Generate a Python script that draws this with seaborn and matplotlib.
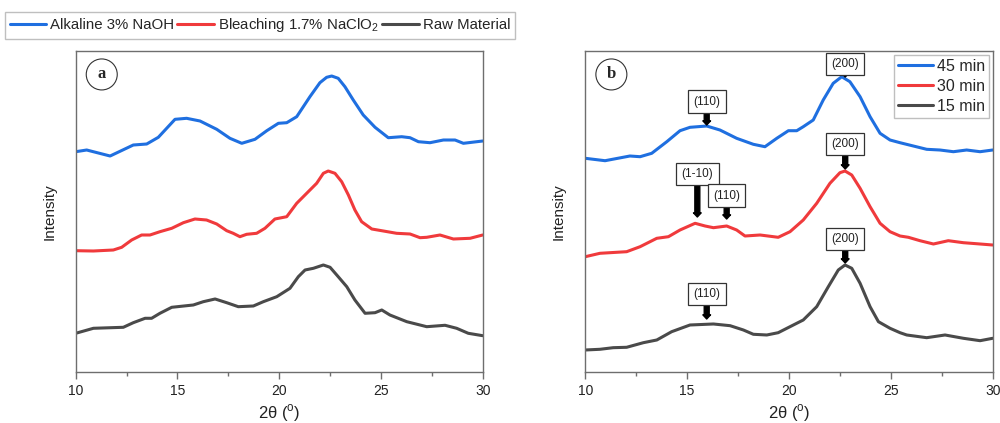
import numpy as np
import pandas as pd
import matplotlib
matplotlib.use("Agg")
import matplotlib.pyplot as plt
from matplotlib.ticker import MultipleLocator
from matplotlib.lines import Line2D
import seaborn as sns

# ---------------- data (2theta in degrees, intensity in arbitrary units) ----------------
a_alk_x = [10.0, 10.54, 11.69, 12.83, 13.49, 14.06, 14.88, 15.45, 16.11, 16.93, 17.58, 18.16,
           18.81, 19.39, 19.96, 20.37, 20.86, 21.51, 22.0, 22.33, 22.58, 22.90, 23.23, 23.64,
           24.13, 24.71, 25.36, 26.02, 26.43, 26.84, 27.41, 28.07, 28.64, 29.05, 30.0]
a_alk_y = [220.3, 222.0, 216.0, 227.0, 228.0, 234.7, 252.7, 253.7, 251.0, 242.7, 233.7, 228.7,
           232.7, 241.3, 248.7, 249.3, 255.3, 275.3, 289.3, 294.7, 296.0, 293.7, 285.3, 272.0,
           257.0, 244.7, 234.3, 235.3, 234.3, 230.3, 229.3, 232.0, 232.0, 228.7, 231.0]

a_bl_x = [10.0, 10.87, 11.85, 12.26, 12.75, 13.24, 13.65, 14.14, 14.72, 15.29, 15.86, 16.43,
          16.93, 17.42, 17.74, 18.07, 18.40, 18.89, 19.30, 19.79, 20.37, 20.86, 21.35, 21.84,
          22.17, 22.41, 22.74, 23.07, 23.40, 23.72, 24.05, 24.55, 25.12, 25.77, 26.43, 26.92,
          27.25, 27.90, 28.56, 29.38, 30.0]
a_bl_y = [121.3, 121.0, 122.0, 124.7, 132.0, 137.0, 137.0, 140.3, 143.7, 149.3, 153.0, 152.0,
          148.0, 141.3, 138.7, 135.3, 137.7, 138.7, 143.7, 153.0, 155.3, 168.7, 178.7, 188.7,
          198.7, 201.0, 198.7, 190.3, 177.0, 162.0, 150.3, 143.0, 141.0, 138.7, 138.0, 134.3,
          134.7, 137.0, 133.0, 133.7, 137.0]

a_raw_x = [10.0, 10.87, 12.34, 12.83, 13.41, 13.73, 14.14, 14.72, 15.78, 16.27, 16.85, 17.42,
           17.99, 18.73, 19.22, 19.88, 20.53, 20.94, 21.27, 21.68, 22.17, 22.50, 22.90, 23.32,
           23.72, 24.22, 24.71, 25.04, 25.44, 26.27, 27.25, 28.15, 28.72, 29.29, 30.0]
a_raw_y = [38.7, 43.7, 44.7, 49.3, 53.7, 53.7, 58.7, 64.7, 67.0, 70.3, 73.0, 69.3,
           65.3, 66.0, 70.3, 75.3, 83.7, 95.3, 102.0, 103.7, 107.0, 104.7, 95.3, 85.3,
           72.0, 58.7, 59.3, 62.0, 57.0, 50.3, 45.3, 46.7, 43.7, 38.7, 36.3]

b_45_x = [10.0, 10.97, 12.19, 12.69, 13.26, 14.0, 14.65, 15.14, 15.96, 16.61, 17.43, 18.25,
          18.82, 19.40, 19.97, 20.38, 20.70, 21.19, 21.68, 22.17, 22.59, 22.99, 23.49, 23.98,
          24.47, 24.96, 25.45, 26.76, 27.41, 28.07, 28.72, 29.38, 30.0]
b_45_y = [213.7, 211.3, 216.0, 215.3, 218.7, 230.3, 241.3, 244.7, 246.0, 242.0, 233.7, 227.7,
          225.3, 233.7, 241.3, 241.3, 245.3, 252.0, 272.0, 288.7, 295.3, 290.3, 275.3, 255.3,
          238.7, 232.0, 229.3, 222.7, 222.0, 220.3, 222.0, 220.3, 222.0]

b_30_x = [10.0, 10.72, 12.03, 12.69, 13.51, 14.08, 14.65, 15.39, 15.88, 16.29, 16.94, 17.43,
          17.84, 18.58, 19.47, 20.05, 20.70, 21.36, 22.01, 22.50, 22.75, 23.08, 23.49, 23.98,
          24.47, 24.96, 25.45, 25.86, 26.43, 27.09, 27.82, 28.56, 29.38, 30.0]
b_30_y = [115.3, 118.7, 120.3, 125.3, 133.7, 135.3, 142.0, 148.7, 146.0, 144.3, 146.0, 142.0,
          136.0, 137.0, 134.7, 140.3, 152.0, 168.7, 188.7, 199.3, 201.0, 197.0, 183.7, 165.3,
          148.7, 140.3, 136.0, 134.7, 131.3, 128.0, 131.3, 129.3, 128.0, 127.0]

b_15_x = [10.0, 10.72, 11.37, 12.03, 12.85, 13.51, 14.24, 15.14, 16.29, 17.11, 17.76, 18.25,
          18.91, 19.47, 20.05, 20.70, 21.36, 21.93, 22.42, 22.75, 23.08, 23.49, 23.98, 24.39,
          24.96, 25.45, 25.78, 26.76, 27.66, 28.56, 29.38, 30.0]
b_15_y = [22.0, 22.7, 24.3, 24.7, 29.3, 32.0, 40.3, 47.0, 48.0, 46.3, 42.0, 37.7,
          37.0, 39.3, 45.3, 52.0, 65.3, 85.3, 102.0, 107.0, 103.7, 88.7, 65.3, 50.3,
          43.7, 39.3, 37.0, 34.3, 37.0, 33.7, 31.3, 33.7]

legend_a = ["Alkaline 3% NaOH", "Bleaching 1.7% NaClO$_2$", "Raw Material"]
legend_b = ["45 min", "30 min", "15 min"]
x_ticks = [10, 15, 20, 25, 30]

# annotations for panel b: (label, x, text_y, tip_y)
ann_b = [
    ("(200)", 22.76, 308.0, 295.0),
    ("(110)", 15.96, 270.3, 247.0),
    ("(200)", 22.76, 228.0, 203.0),
    ("(1-10)", 15.50, 198.0, 155.0),
    ("(110)", 16.94, 176.3, 153.0),
    ("(200)", 22.76, 133.0, 109.0),
    ("(110)", 15.96, 78.0, 53.0),
]

# ---------------- style ----------------
sns.set_theme(style="white")
plt.rcParams["font.family"] = ["Liberation Sans", "DejaVu Sans"]
plt.rcParams["mathtext.fontset"] = "custom"
plt.rcParams["mathtext.rm"] = "Liberation Sans"

BLUE = "#1f6fe0"
RED = "#f03a3c"
GRAY = "#4a4a4a"
SPINE = "#6e6e6e"
LW = 2.2

fig = plt.figure(figsize=(10, 4.23), dpi=100)
ax_a = fig.add_axes([0.0757, 0.1206, 0.4070, 0.7588])
ax_b = fig.add_axes([0.5853, 0.1206, 0.4074, 0.7588])


def draw(ax, xs, ys, color, label):
    df = pd.DataFrame({"x": xs, "y": ys})
    sns.lineplot(data=df, x="x", y="y", ax=ax, color=color, lw=LW,
                 estimator=None, sort=False, label=label, legend=False,
                 solid_joinstyle="round", solid_capstyle="round")


draw(ax_a, a_alk_x, a_alk_y, BLUE, legend_a[0])
draw(ax_a, a_bl_x, a_bl_y, RED, legend_a[1])
draw(ax_a, a_raw_x, a_raw_y, GRAY, legend_a[2])

draw(ax_b, b_45_x, b_45_y, BLUE, legend_b[0])
draw(ax_b, b_30_x, b_30_y, RED, legend_b[1])
draw(ax_b, b_15_x, b_15_y, GRAY, legend_b[2])

for ax, letter in ((ax_a, "a"), (ax_b, "b")):
    ax.set_xlim(10, 30)
    ax.set_ylim(0, 321)
    ax.set_yticks([])
    ax.set_xticks(x_ticks)
    ax.xaxis.set_minor_locator(MultipleLocator(2.5))
    ax.tick_params(axis="x", which="major", direction="out", length=5, width=1,
                   color=SPINE, labelsize=10, labelcolor="#222222", pad=4, bottom=True)
    ax.tick_params(axis="x", which="minor", direction="out", length=3, width=1,
                   color=SPINE, bottom=True)
    for s in ax.spines.values():
        s.set_color(SPINE)
        s.set_linewidth(1.0)
    ax.set_xlabel("2θ ($^{\\mathrm{o}}$)", fontsize=12, color="#222222", labelpad=3)
    ax.set_ylabel("Intensity", fontsize=11, color="#222222", labelpad=14)
    ax.text(0.064, 0.927, letter, transform=ax.transAxes, ha="center", va="center",
            fontsize=12, fontweight="bold", family="Liberation Serif",
            bbox=dict(boxstyle="circle,pad=0.45", fc="white", ec="#333333", lw=0.8))

for lab, x, ty, tip in ann_b:
    ax_b.annotate(lab, xy=(x, tip), xytext=(x, ty), ha="center", va="center",
                  fontsize=8.5, color="#222222",
                  bbox=dict(boxstyle="square,pad=0.45", fc="white", ec="#333333", lw=0.9),
                  arrowprops=dict(arrowstyle="simple,head_width=0.65,head_length=0.35,tail_width=0.42",
                                  fc="black", ec="black", shrinkA=0, shrinkB=0))

# legend panel b
hb = [Line2D([], [], color=c, lw=LW) for c in (BLUE, RED, GRAY)]
lg_b = ax_b.legend(hb, legend_b, loc="upper right", fontsize=11.5, frameon=True,
                   fancybox=False, edgecolor="#b0b0b0", handlelength=2.2,
                   handletextpad=0.2, labelspacing=0.3, borderpad=0.25,
                   borderaxespad=0.25)
lg_b.get_frame().set_linewidth(1.0)

# top figure legend for panel a
ha = [Line2D([], [], color=c, lw=LW) for c in (BLUE, RED, GRAY)]
lg_a = fig.legend(ha, legend_a, loc="upper left", bbox_to_anchor=(0.005, 0.972),
                  ncol=3, fontsize=10.8, frameon=True, fancybox=False,
                  edgecolor="#b0b0b0", handlelength=2.45, handletextpad=0.27,
                  columnspacing=0.2, borderpad=0.3, borderaxespad=0.0)
lg_a.get_frame().set_linewidth(1.0)

fig.savefig("out.png", dpi=100, facecolor="white")
